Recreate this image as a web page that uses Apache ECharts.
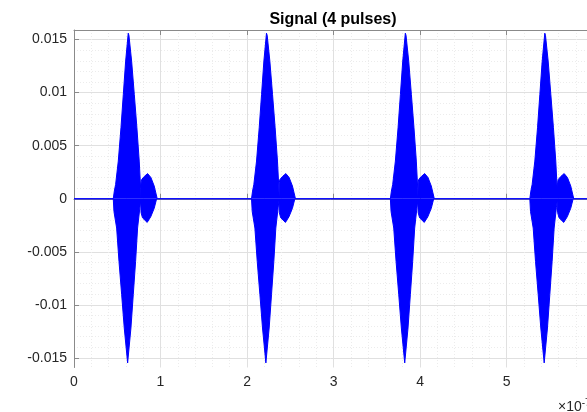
<!DOCTYPE html>
<html>
<head>
<meta charset="utf-8">
<script src="https://cdn.jsdelivr.net/npm/echarts@6/dist/echarts.min.js"></script>
<style>
html, body { margin: 0; padding: 0; background: #fff; }
#signal { width: 587px; height: 412px; }
</style>
</head>
<body>
<div id="signal"></div>
<script>
// peak position of each pulse
var pulsePeaks = [0.627, 2.225, 3.830, 5.442];
// upper envelope of one pulse: [offset from peak, amplitude]
var upperEnv = [
  [-0.173, 0], [-0.161, 0.00072], [-0.146, 0.00135], [-0.115, 0.00355],
  [-0.084, 0.00669], [-0.057, 0.00982], [-0.030, 0.01297], [0, 0.0156],
  [0.008, 0.0154], [0.039, 0.01297], [0.070, 0.00982], [0.100, 0.00669],
  [0.127, 0.00355], [0.143, 0.0010], [0.146, 0.0002],
  // small trailing pulse
  [0.148, 0.0015], [0.154, 0.0018], [0.185, 0.0021], [0.224, 0.00237],
  [0.262, 0.0020], [0.300, 0.0012], [0.335, 0]
];
// lower envelope of one pulse
var lowerEnv = [
  [-0.173, 0], [-0.165, -0.0012], [-0.134, -0.00276], [-0.107, -0.0059],
  [-0.076, -0.00904], [-0.046, -0.01218], [-0.007, -0.01547], [0.031, -0.01218],
  [0.058, -0.00904], [0.085, -0.0059], [0.108, -0.00276], [0.135, -0.0008],
  [0.144, -0.0002],
  [0.148, -0.0013], [0.165, -0.0018], [0.219, -0.00223], [0.260, -0.0017],
  [0.300, -0.0009], [0.328, 0]
];
// the axes run past the right edge of the window; only up to ~5.93 is visible
var xRange = [0, 5.93];
var yRange = [-0.0159, 0.0159];
var yMajorTicks = [-0.015, -0.01, -0.005, 0, 0.005, 0.01, 0.015];
var yMinorTicks = [-0.015, -0.014, -0.013, -0.012, -0.011, -0.01, -0.009, -0.008,
  -0.007, -0.006, -0.005, -0.004, -0.003, -0.002, -0.001, 0, 0.001, 0.002, 0.003,
  0.004, 0.005, 0.006, 0.007, 0.008, 0.009, 0.01, 0.011, 0.012, 0.013, 0.014, 0.015];

function buildTrace(env) {
  var pts = [[xRange[0], 0]];
  pulsePeaks.forEach(function (p) {
    env.forEach(function (e) {
      pts.push([+(p + e[0]).toFixed(4), e[1]]);
    });
  });
  pts.push([xRange[1], 0]);
  return pts;
}

var axisColor = '#8a8a8a';
var labelStyle = {
  color: '#262626',
  fontSize: 14,
  fontFamily: 'Liberation Sans, Arial, sans-serif'
};

var options = {
  animation: false,
  backgroundColor: '#fff',
  grid: {
    left: 74,
    right: 0,
    top: 30,
    bottom: 44.5
  },
  graphic: [
    {
      type: 'text',
      x: 333,
      y: 20,
      style: {
        text: 'Signal (4 pulses)',
        fill: '#000',
        fontSize: 16,
        fontWeight: 'bold',
        fontFamily: 'Liberation Sans, Arial, sans-serif',
        align: 'center',
        verticalAlign: 'middle'
      }
    },
    {
      type: 'text',
      x: 558,
      y: 407,
      style: {
        text: '×10{sup|-7}',
        fill: '#262626',
        fontSize: 14,
        fontFamily: 'Liberation Sans, Arial, sans-serif',
        verticalAlign: 'middle',
        rich: { sup: { fontSize: 10, verticalAlign: 'top', padding: [0, 0, 8, 0] } }
      }
    }
  ],
  xAxis: [
    {
      // minor grid
      type: 'value',
      min: xRange[0],
      max: xRange[1],
      interval: 0.2,
      axisLine: { show: false },
      axisTick: { show: false },
      axisLabel: { show: false },
      splitLine: { show: true, lineStyle: { color: '#ececec', type: [1, 2], width: 1 } }
    },
    {
      type: 'value',
      position: 'bottom',
      min: xRange[0],
      max: xRange[1],
      interval: 1,
      axisLine: { show: true, lineStyle: { color: axisColor, width: 1 } },
      axisTick: { show: true, inside: true, length: 5, lineStyle: { color: axisColor } },
      axisLabel: Object.assign({ margin: 8, showMaxLabel: false }, labelStyle),
      splitLine: { show: true, lineStyle: { color: '#e0e0e0', width: 1 } }
    },
    {
      type: 'value',
      position: 'top',
      min: xRange[0],
      max: xRange[1],
      interval: 1,
      axisLine: { show: true, lineStyle: { color: axisColor, width: 1 } },
      axisTick: { show: true, inside: true, length: 5, lineStyle: { color: axisColor } },
      axisLabel: { show: false },
      splitLine: { show: false }
    }
  ],
  yAxis: [
    {
      // minor grid
      type: 'value',
      position: 'left',
      min: yRange[0],
      max: yRange[1],
      axisLine: { show: false },
      axisTick: { show: false, customValues: yMinorTicks },
      axisLabel: { show: false },
      splitLine: { show: true, lineStyle: { color: '#ececec', type: [1, 2], width: 1 } }
    },
    {
      type: 'value',
      position: 'left',
      min: yRange[0],
      max: yRange[1],
      axisLine: { show: true, lineStyle: { color: axisColor, width: 1 } },
      axisTick: { show: true, inside: true, length: 5, customValues: yMajorTicks, lineStyle: { color: axisColor } },
      axisLabel: Object.assign({ margin: 7, customValues: yMajorTicks }, labelStyle),
      splitLine: { show: true, lineStyle: { color: '#e0e0e0', width: 1 } }
    }
  ],
  series: [
    {
      name: 'upper',
      type: 'line',
      xAxisIndex: 1,
      yAxisIndex: 1,
      symbol: 'none',
      z: 5,
      lineStyle: { color: '#0000ff', width: 1 },
      areaStyle: { color: '#0000ff', opacity: 1 },
      data: buildTrace(upperEnv)
    },
    {
      name: 'lower',
      type: 'line',
      xAxisIndex: 1,
      yAxisIndex: 1,
      symbol: 'none',
      z: 5,
      lineStyle: { color: '#0000ff', width: 1 },
      areaStyle: { color: '#0000ff', opacity: 1 },
      data: buildTrace(lowerEnv)
    }
  ]
};

var signalChart = echarts.init(document.getElementById('signal'));
signalChart.setOption(options);
</script>
</body>
</html>
